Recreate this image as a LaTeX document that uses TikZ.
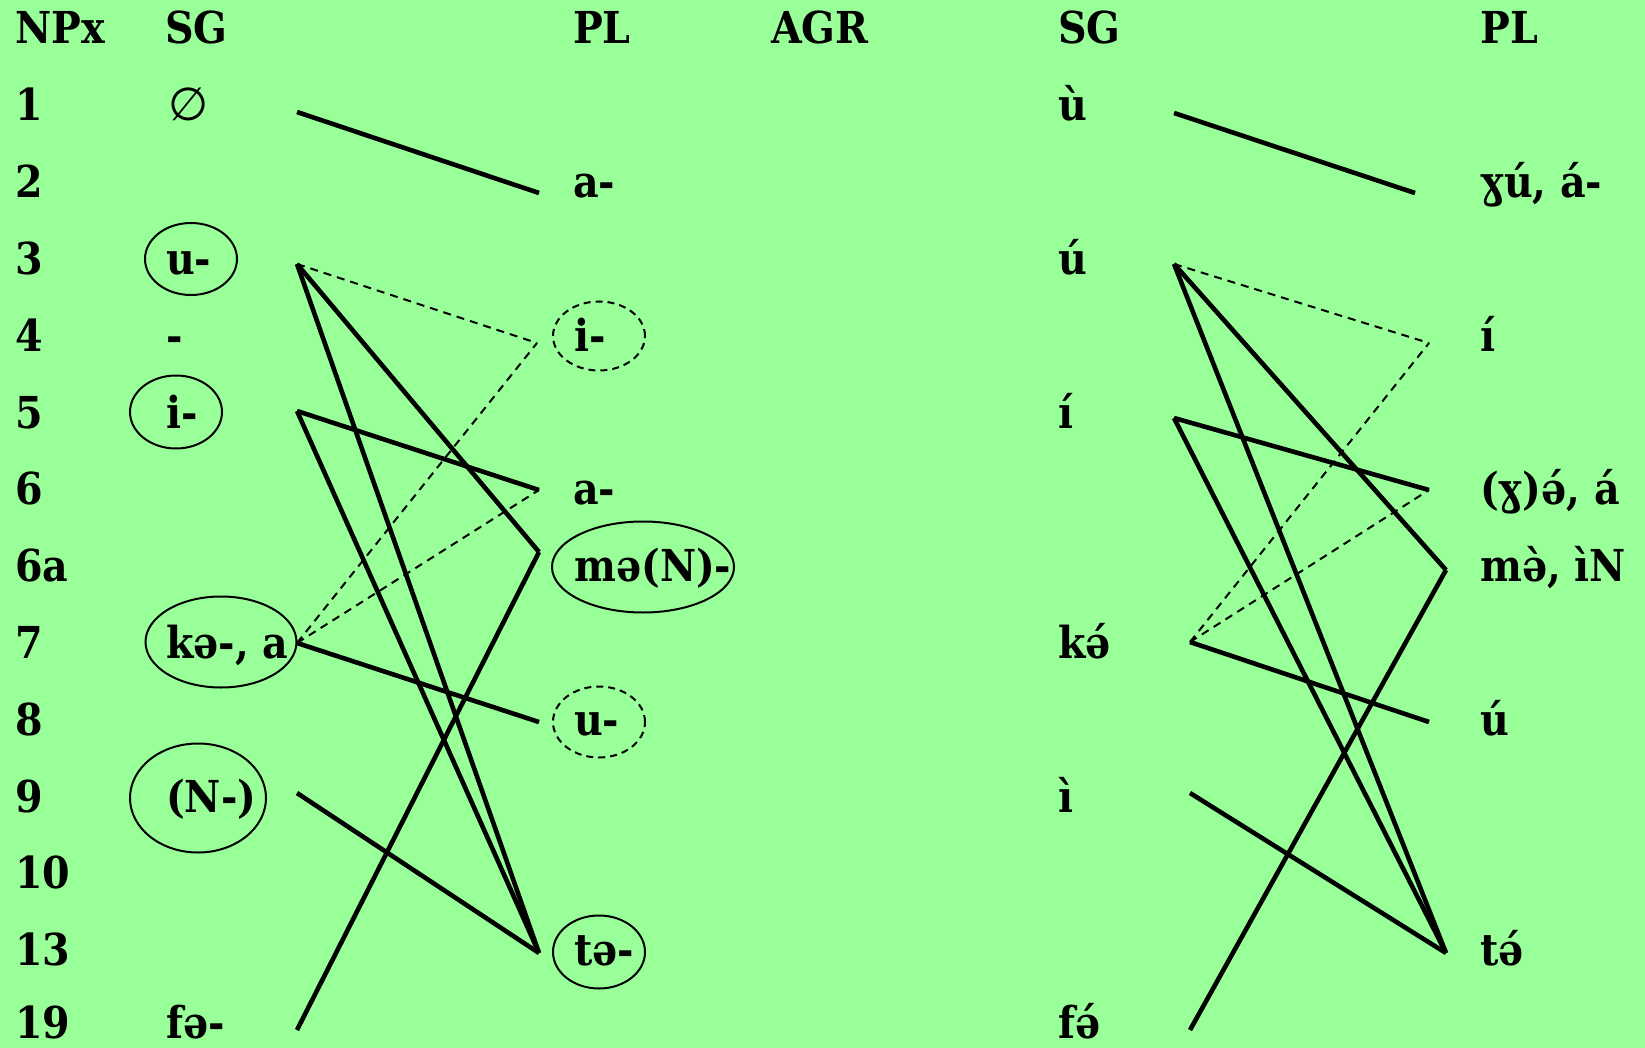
\documentclass[tikz,border=0pt]{standalone}
\usepackage{fontspec}
\setmainfont{DejaVu Serif Condensed}
\newfontfamily\symfont{DejaVu Sans}
\usetikzlibrary{shapes.geometric}
\definecolor{bgcol}{RGB}{153,255,153}
\begin{document}
\begin{tikzpicture}[x=1pt,y=-1pt,
  lbl/.style={anchor=base west,inner sep=0pt,font=\fontsize{44}{50}\selectfont\bfseries},
  conn/.style={line width=4.6pt},
  dconn/.style={line width=2pt,dash pattern=on 8pt off 6pt},
  ring/.style={draw,ellipse,line width=2pt,inner sep=0pt},
  dring/.style={ring,dash pattern=on 7pt off 5pt}]
\fill[bgcol] (0,0) rectangle (1645,1048);
\useasboundingbox (0,0) rectangle (1645,1048);
% headers
\node[lbl] (hNP) at (15,44) {NPx};
\node[lbl] (hSG) at (165,44) {SG};
\node[lbl] (hPL) at (573,44) {PL};
\node[lbl] (hAGR) at (771,44) {AGR};
\node[lbl] (hSG2) at (1058,44) {SG};
\node[lbl] (hPL2) at (1480,44) {PL};
% row numbers
\node[lbl] (n1) at (15,120.8) {1};
\node[lbl] (n2) at (15,197.6) {2};
\node[lbl] (n3) at (15,274.4) {3};
\node[lbl] (n4) at (15,351.2) {4};
\node[lbl] (n5) at (15,428) {5};
\node[lbl] (n6) at (15,504.8) {6};
\node[lbl] (n6a) at (15,581.6) {6a};
\node[lbl] (n7) at (15,658.4) {7};
\node[lbl] (n8) at (15,735.2) {8};
\node[lbl] (n9) at (15,812) {9};
\node[lbl] (n10) at (15,888.8) {10};
\node[lbl] (n13) at (15,965.6) {13};
\node[lbl] (n19) at (15,1038) {19};
% left SG
\node[anchor=center,inner sep=0pt,font=\fontsize{46}{50}\symfont] (sg1) at (189,104) {∅};
\node[lbl] (sg3) at (166,274.4) {u-};
\node[lbl] (sg4) at (166,351.2) {-};
\node[lbl] (sg5) at (166,428) {i-};
\node[lbl] (sg7) at (166,658.4) {kə-, a};
\node[lbl] (sg9) at (166,812) {(N-)};
\node[lbl] (sg19) at (166,1038) {fə-};
% left PL
\node[lbl] (pl2) at (573,197.6) {a-};
\node[lbl] (pl4) at (574,351.2) {i-};
\node[lbl] (pl6) at (573,504.8) {a-};
\node[lbl] (pl6a) at (574,581.6) {mə(N)-};
\node[lbl] (pl8) at (574,735.2) {u-};
\node[lbl] (pl13) at (574,965.6) {tə-};
% ellipses
\node[ring,minimum width=92pt,minimum height=72pt] (eU) at (191,259) {};
\node[ring,minimum width=92pt,minimum height=73pt] (eI) at (176,412) {};
\node[ring,minimum width=151pt,minimum height=91pt] (eK) at (221,642) {};
\node[ring,minimum width=136pt,minimum height=109pt] (eN) at (198,798) {};
\node[dring,minimum width=92pt,minimum height=69pt] (ePi) at (599,336) {};
\node[ring,minimum width=182pt,minimum height=91pt] (ePm) at (643,567) {};
\node[dring,minimum width=92pt,minimum height=71pt] (ePu) at (599,722) {};
\node[ring,minimum width=92pt,minimum height=73pt] (ePt) at (599,952) {};
% right SG
\node[lbl] (rs1) at (1058,120.8) {ù};
\node[lbl] (rs3) at (1058,274.4) {ú};
\node[lbl] (rs5) at (1058,428) {í};
\node[lbl] (rs7) at (1058,658.4) {kə́};
\node[lbl] (rs9) at (1058,812) {ì};
\node[lbl] (rs19) at (1058,1038) {fə́};
% right PL
\node[lbl] (rp2) at (1480,197.6) {ɣú, á-};
\node[lbl] (rp4) at (1480,351.2) {í};
\node[lbl] (rp6) at (1480,504.8) {(ɣ)ə́, á};
\node[lbl] (rp6a) at (1480,581.6) {mə̀, ìN};
\node[lbl] (rp8) at (1480,735.2) {ú};
\node[lbl] (rp13) at (1480,965.6) {tə́};
% left connector ends
\coordinate (a1) at (297,112);
\coordinate (a3) at (297,264);
\coordinate (a5) at (297,411);
\coordinate (a7) at (297,643);
\coordinate (a9) at (297,793);
\coordinate (a19) at (297,1030);
\coordinate (b2) at (539,193);
\coordinate (b4) at (537,343);
\coordinate (b6) at (539,490);
\coordinate (b6a) at (539,552);
\coordinate (b8) at (539,722);
\coordinate (b13) at (539,953);
% right connector ends
\coordinate (c1) at (1174,113);
\coordinate (c3) at (1174,264);
\coordinate (c5) at (1174,418);
\coordinate (c7) at (1190,642);
\coordinate (c9) at (1190,793);
\coordinate (c19) at (1190,1030);
\coordinate (d2) at (1415,193);
\coordinate (d4) at (1429,343);
\coordinate (d6) at (1429,490);
\coordinate (d6a) at (1446,570);
\coordinate (d8) at (1429,722);
\coordinate (d13) at (1446,953);
% left connectors
\draw[conn] (a1) -- (b2);
\draw[dconn] (a3) -- (b4);
\draw[conn] (a3) -- (b6a);
\draw[conn] (a3) -- (b13);
\draw[conn] (a5) -- (b6);
\draw[conn] (a5) -- (b13);
\draw[dconn] (a7) -- (b4);
\draw[dconn] (a7) -- (b6);
\draw[conn] (a7) -- (b8);
\draw[conn] (a9) -- (b13);
\draw[conn] (a19) -- (b6a);
% right connectors
\draw[conn] (c1) -- (d2);
\draw[dconn] (c3) -- (d4);
\draw[conn] (c3) -- (d6a);
\draw[conn] (c3) -- (d13);
\draw[conn] (c5) -- (d6);
\draw[conn] (c5) -- (d13);
\draw[dconn] (c7) -- (d4);
\draw[dconn] (c7) -- (d6);
\draw[conn] (c7) -- (d8);
\draw[conn] (c9) -- (d13);
\draw[conn] (c19) -- (d6a);
\end{tikzpicture}
\end{document}
